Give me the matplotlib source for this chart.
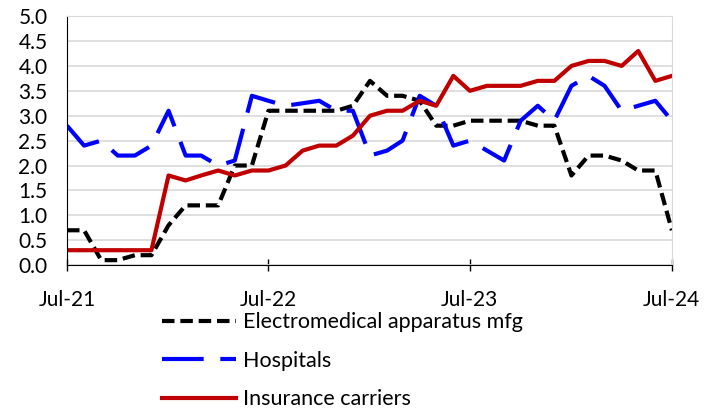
import numpy as np
import pandas as pd
import matplotlib
matplotlib.use("Agg")
import matplotlib.pyplot as plt

plt.rcParams['font.family'] = ['Lato', 'DejaVu Sans']

months = pd.date_range("2021-07-01", "2024-07-01", freq="MS")
tick_dates = pd.to_datetime(["2021-07-01", "2022-07-01", "2023-07-01", "2024-07-01"])
tick_labels = ["Jul-21", "Jul-22", "Jul-23", "Jul-24"]

electromedical = [0.7, 0.7, 0.1, 0.1, 0.2, 0.2, 0.8, 1.2, 1.2, 1.2, 2.0, 2.0,
                  3.1, 3.1, 3.1, 3.1, 3.1, 3.2, 3.7, 3.4, 3.4, 3.3, 2.8, 2.8,
                  2.9, 2.9, 2.9, 2.9, 2.8, 2.8, 1.8, 2.2, 2.2, 2.1, 1.9, 1.9, 0.7]
hospitals = [2.8, 2.4, 2.5, 2.2, 2.2, 2.4, 3.1, 2.2, 2.2, 2.0, 2.1, 3.4,
             3.3, 3.2, 3.25, 3.3, 3.1, 3.1, 2.2, 2.3, 2.5, 3.4, 3.2, 2.4,
             2.5, 2.3, 2.1, 2.9, 3.2, 2.9, 3.6, 3.8, 3.6, 3.1, 3.2, 3.3, 2.9]
insurance = [0.3, 0.3, 0.3, 0.3, 0.3, 0.3, 1.8, 1.7, 1.8, 1.9, 1.8, 1.9,
             1.9, 2.0, 2.3, 2.4, 2.4, 2.6, 3.0, 3.1, 3.1, 3.3, 3.2, 3.8,
             3.5, 3.6, 3.6, 3.6, 3.7, 3.7, 4.0, 4.1, 4.1, 4.0, 4.3, 3.7, 3.8]

fig = plt.figure(figsize=(7.15, 4.13), dpi=100)
ax = fig.add_axes([0.0937, 0.358, 0.846, 0.603])

ax.plot(months, electromedical, color="black", lw=3,
        linestyle=(0, (3, 1.4)), label="Electromedical apparatus mfg")
ax.plot(months, hospitals, color="#0000FF", lw=3,
        linestyle=(0, (10, 4)), label="Hospitals")
ax.plot(months, insurance, color="#C00000", lw=3, label="Insurance carriers")

ax.set_xlim(months[0], months[-1])
ax.set_ylim(0, 5)
ax.set_yticks(np.arange(0, 5.01, 0.5))
ax.set_yticklabels([f"{v:.1f}" for v in np.arange(0, 5.01, 0.5)])
ax.set_xticks(tick_dates)
ax.set_xticklabels(tick_labels)
ax.yaxis.grid(True, color="#D9D9D9", lw=1.2)
ax.set_axisbelow(True)

ax.tick_params(axis="y", length=0, pad=14, labelsize=15)
ax.tick_params(axis="x", direction="inout", length=8, width=1, pad=14, labelsize=15)
for s in ["top", "right"]:
    ax.spines[s].set_color("#D9D9D9")
for s in ["left", "bottom"]:
    ax.spines[s].set_color("black")

fig.legend(loc="upper left", bbox_to_anchor=(0.2266, 0.2435), frameon=False,
           fontsize=15.5, handlelength=3.45, labelspacing=0.86, handletextpad=0.3,
           borderaxespad=0, borderpad=0)

fig.savefig("out.png", dpi=100)
